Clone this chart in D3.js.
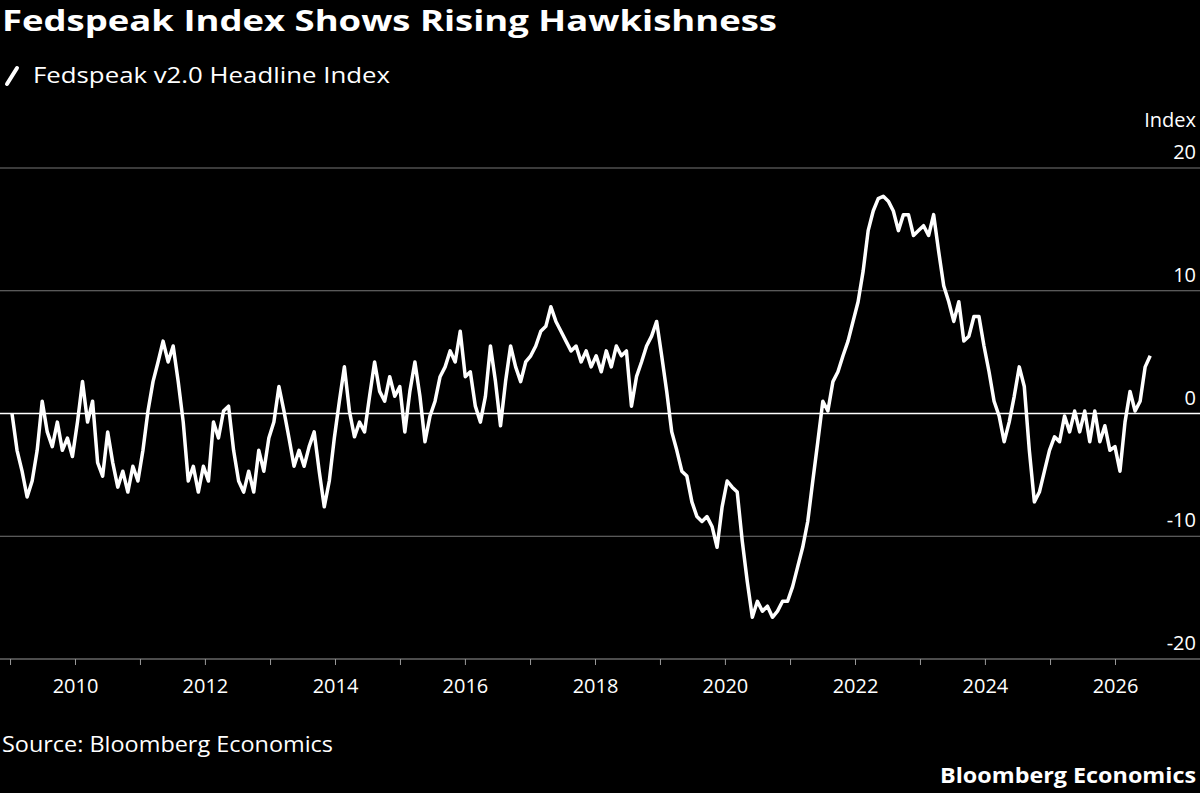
<!DOCTYPE html>
<html><head><meta charset="utf-8">
<script src="https://cdn.jsdelivr.net/npm/d3@7"></script>
<style>body{margin:0;background:#000}text{font-family:"Open Sans","DejaVu Sans",sans-serif}</style>
</head><body><svg id="c" width="1200" height="793"></svg>
<script>
const title = "Fedspeak Index Shows Rising Hawkishness";
const legendLabel = "Fedspeak v2.0 Headline Index";
const yTicks = [20, 10, 0, -10, -20];
const xTickYears = [2010,2012,2014,2016,2018,2020,2022,2024,2026];
const startDate = "2009-01-12";
const stepDays = 28.3;
const values = [0,-3,-4.7,-6.8,-5.5,-3,1,-1.5,-2.7,-0.7,-3,-2,-3.5,-0.7,2.6,-0.7,1,-4,-5.1,-1.5,-4,-6,-4.7,-6.4,-4.3,-5.5,-3,0.2,2.6,4.2,5.9,4.2,5.5,2.6,-0.7,-5.5,-4.3,-6.4,-4.3,-5.5,-0.7,-2,0.2,0.6,-3,-5.5,-6.4,-4.7,-6.4,-3,-4.7,-2,-0.7,2.2,0.2,-2,-4.3,-3,-4.3,-2.7,-1.5,-4.7,-7.6,-5.5,-2,1,3.8,0.2,-1.9,-0.7,-1.5,1.4,4.2,1.8,1,3,1.4,2.2,-1.5,1.8,4.2,1.4,-2.3,-0.2,1,3,3.8,5.1,4.2,6.7,3,3.4,0.6,-0.7,1.4,5.5,2.6,-1,2.6,5.5,3.8,2.6,4.2,4.7,5.5,6.7,7.1,8.7,7.5,6.7,5.9,5.1,5.5,4.2,5.1,3.8,4.7,3.4,5.1,3.8,5.5,4.7,5.1,0.6,3,4.2,5.5,6.3,7.5,4.7,1.8,-1.5,-3,-4.7,-5.1,-7.2,-8.4,-8.8,-8.4,-9.2,-10.9,-7.6,-5.5,-6,-6.4,-10.4,-13.7,-16.6,-15.3,-16.1,-15.7,-16.6,-16.1,-15.3,-15.3,-14.1,-12.5,-10.9,-8.8,-5.5,-2.3,1,0.2,2.6,3.4,4.7,5.9,7.5,9.1,11.6,14.9,16.5,17.5,17.7,17.3,16.5,14.9,16.2,16.2,14.5,14.9,15.3,14.5,16.2,13.2,10.4,9.1,7.5,9.1,5.9,6.3,7.9,7.9,5.5,3.4,1,-0.2,-2.3,-0.7,1.4,3.8,2.2,-3,-7.2,-6.4,-4.7,-3,-1.9,-2.3,-0.2,-1.5,0.2,-1.5,0.2,-2.3,0.2,-2.3,-1,-3,-2.7,-4.7,-0.7,1.8,0.2,1,3.8,4.7];

const svg = d3.select("#c");
const dates = values.map((v,i)=>d3.timeHour.offset(new Date(startDate), Math.round(i*stepDays*24)));
const x = d3.scaleTime().domain([new Date(2010,0,1), new Date(2026,0,1)]).range([75,1115]);
const y = d3.scaleLinear().domain([-20,20]).range([659,168]);

svg.append("text").attr("x",2).attr("y",31).attr("fill","#fff").attr("font-size",29).attr("font-weight","bold").attr("textLength",775).attr("lengthAdjust","spacingAndGlyphs").text(title);
svg.append("line").attr("x1",7).attr("y1",84).attr("x2",17).attr("y2",68).attr("stroke","#fff").attr("stroke-width",4).attr("stroke-linecap","round");
svg.append("text").attr("x",33).attr("y",83).attr("fill","#fff").attr("font-size",21).attr("textLength",357).attr("lengthAdjust","spacingAndGlyphs").text(legendLabel);
svg.append("text").attr("x",1196).attr("y",127).attr("text-anchor","end").attr("fill","#fff").attr("font-size",20).text("Index");

yTicks.forEach(t=>{
  if(t!==-20 && t!==0) svg.append("line").attr("x1",0).attr("x2",1200).attr("y1",y(t)).attr("y2",y(t)).attr("stroke","#777").attr("stroke-width",1);
  svg.append("text").attr("x",1196).attr("y",y(t)-9).attr("text-anchor","end").attr("fill","#fff").attr("font-size",20).text(t);
});
svg.append("line").attr("x1",0).attr("x2",1200).attr("y1",y(-20)).attr("y2",y(-20)).attr("stroke","#999");

const xAxis = svg.append("g").attr("transform",`translate(0,${y(-20)})`)
  .call(d3.axisBottom(x).tickValues(d3.timeYear.range(new Date(2009,0,1),new Date(2027,0,1))).tickSize(6).tickFormat(d=>xTickYears.includes(d.getFullYear())?d.getFullYear():""));
xAxis.select(".domain").remove();
xAxis.selectAll("line").attr("stroke","#999");
xAxis.selectAll("text").attr("fill","#fff").attr("font-size",20).attr("dy","1.25em").style("font-family",'"Open Sans","DejaVu Sans",sans-serif');

svg.append("path").datum(values).attr("fill","none").attr("stroke","#fff").attr("stroke-width",3.5).attr("stroke-linejoin","round")
  .attr("d",d3.line().x((d,i)=>x(dates[i])).y(d=>y(d)));
svg.append("line").attr("x1",0).attr("x2",1200).attr("y1",y(0)).attr("y2",y(0)).attr("stroke","#fff").attr("stroke-width",1.5);

svg.append("text").attr("x",2).attr("y",752).attr("fill","#fff").attr("font-size",21).attr("textLength",331).attr("lengthAdjust","spacingAndGlyphs").text("Source: Bloomberg Economics");
svg.append("text").attr("x",1196).attr("y",783).attr("text-anchor","end").attr("fill","#fff").attr("font-size",21).attr("font-weight","bold").attr("textLength",256).attr("lengthAdjust","spacingAndGlyphs").text("Bloomberg Economics");
</script></body></html>
